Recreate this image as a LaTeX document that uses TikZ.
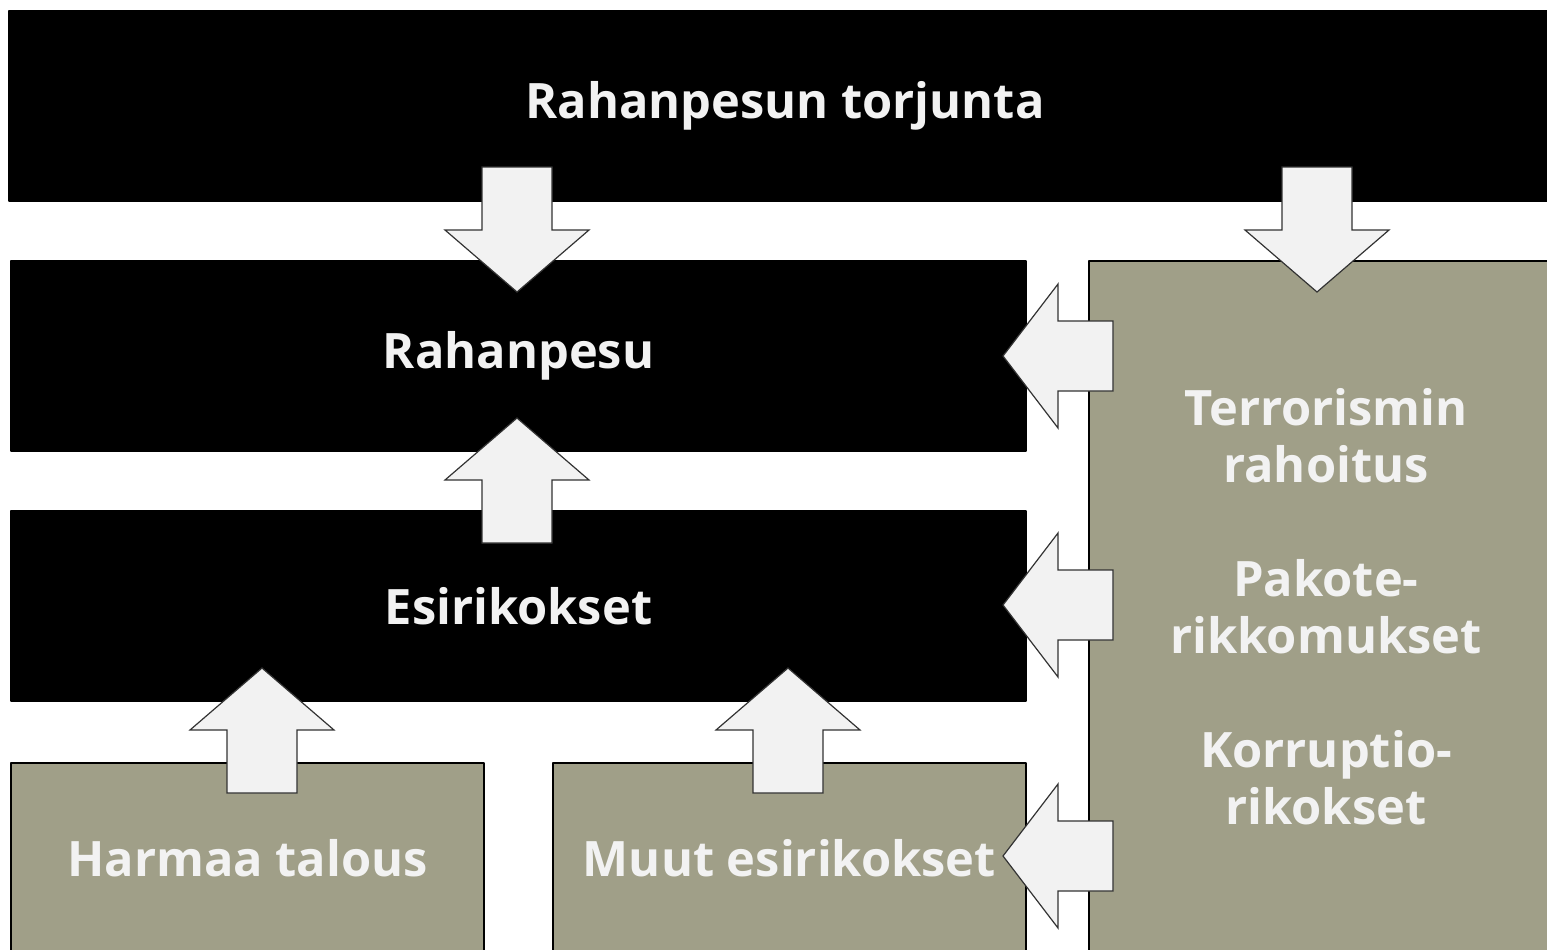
\documentclass[tikz,border=0pt]{standalone}
\usepackage{fontspec}
\setmainfont{Open Sans}
\definecolor{boxgray}{HTML}{A09F88}
\definecolor{arrowfill}{HTML}{F2F2F2}
\tikzset{
  box/.style={draw=black, line width=1pt, inner sep=0pt, anchor=north west,
    text=arrowfill, align=center, font=\bfseries\fontsize{24.4}{28.5}\selectfont},
  darkbox/.style={box, fill=black},
  graybox/.style={box, fill=boxgray},
  blockarrow/.style={draw=black!80, line width=0.6pt, fill=arrowfill, line join=miter}
}
\begin{document}
\begin{tikzpicture}[x=0.5pt, y=-0.5pt, line join=round]
\path[use as bounding box, clip] (0,0) rectangle (1547,949);
% boxes
\node[darkbox, minimum width=776pt, minimum height=95pt] (torj) at (8,10) {Rahanpesun torjunta};
\node[darkbox, minimum width=507.5pt, minimum height=95pt] (rp) at (10,260) {Rahanpesu};
\node[darkbox, minimum width=507.5pt, minimum height=95pt] (es) at (10,510) {Esirikokset};
\node[graybox, minimum width=236.5pt, minimum height=95pt] (ht) at (10,762) {Harmaa talous};
\node[graybox, minimum width=236.5pt, minimum height=95pt] (me) at (552,762) {Muut esirikokset};
\node[graybox, minimum width=237pt, minimum height=346pt] (tr) at (1088,260)
  {Terrorismin\\rahoitus\\[28.5pt]Pakote-\\rikkomukset\\[28.5pt]Korruptio-\\rikokset};
% arrow tips
\path
(517,292) coordinate (A)
(1317,292) coordinate (B)
(517,418) coordinate (C)
(262,668) coordinate (D)
(788,668) coordinate (E)
(1003,356) coordinate (F)
(1003,605) coordinate (G)
(1003,856) coordinate (H)
;
% tip / turn / head length / tail length
\foreach \t/\r/\h/\l in {A/0/62/125,B/0/62/125,C/180/62/125,D/180/62/125,E/180/62/125,
                         F/-90/55/110,G/-90/55/110,H/-90/55/110}
  \draw[blockarrow, shift={(\t)}, rotate=\r] (0,0) -- (-72,-\h) -- (-35,-\h)
    -- (-35,-\l) -- (35,-\l) -- (35,-\h) -- (72,-\h) -- cycle;
\end{tikzpicture}
\end{document}
